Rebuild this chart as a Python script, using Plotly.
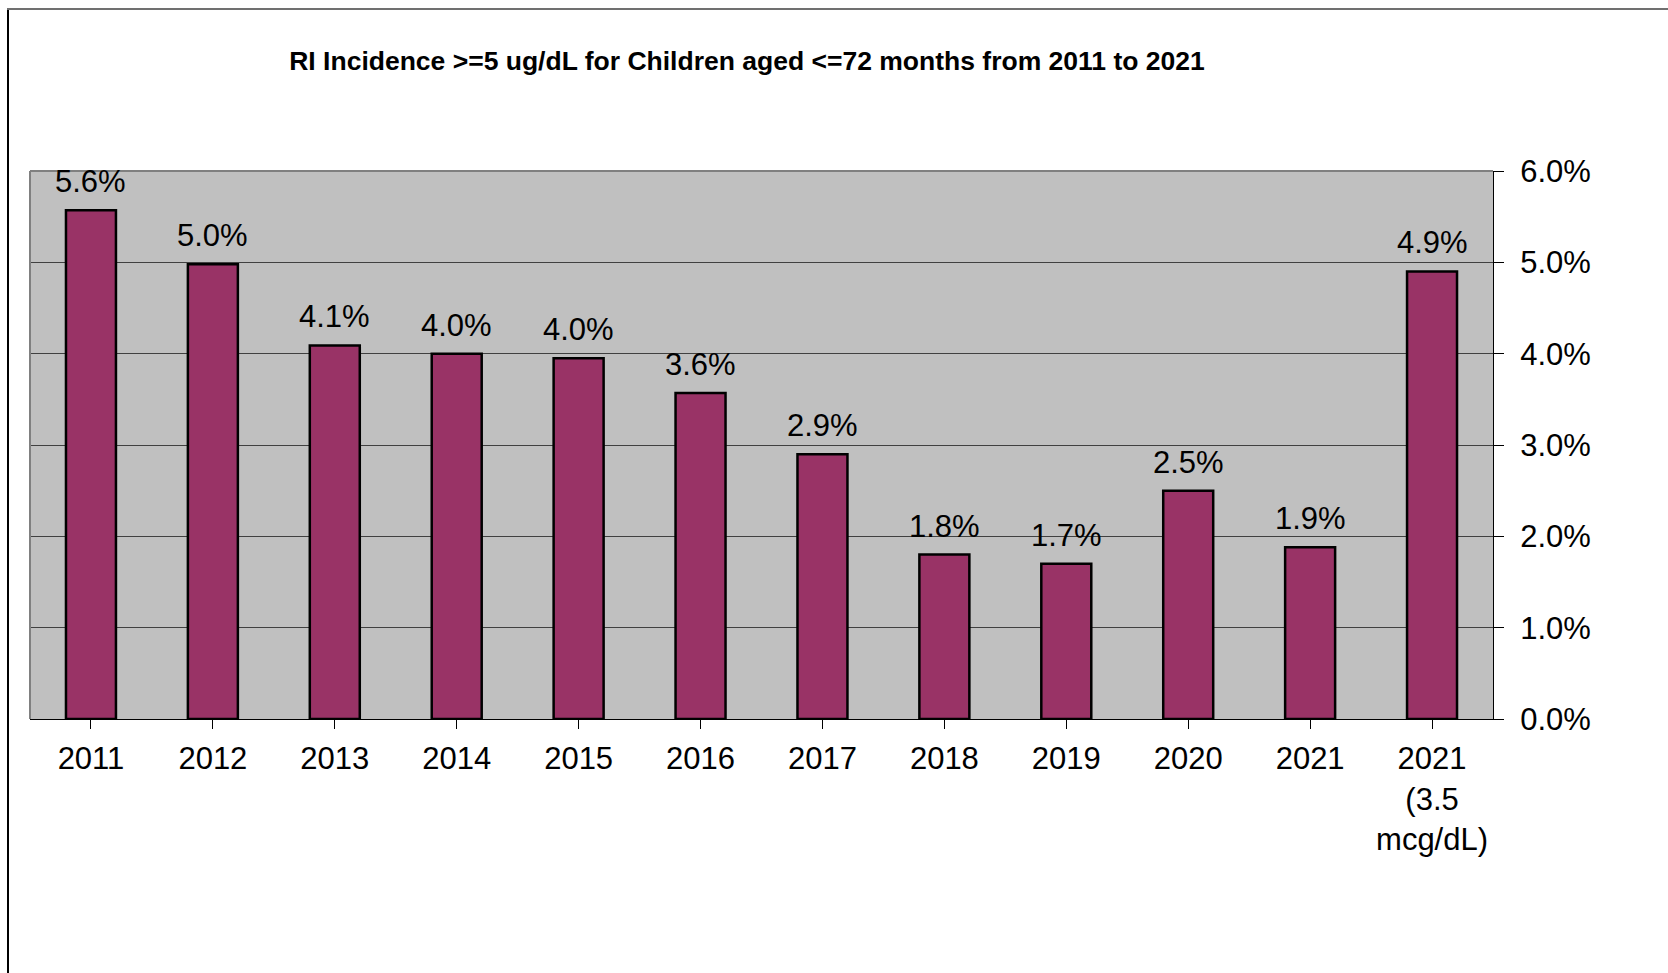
import plotly.graph_objects as go

categories = ["2011", "2012", "2013", "2014", "2015", "2016", "2017", "2018",
              "2019", "2020", "2021", "2021<br>(3.5<br>mcg/dL)"]
values_pct = [5.57, 4.98, 4.09, 4.00, 3.95, 3.57, 2.90, 1.80, 1.70, 2.50, 1.88, 4.90]
labels = ["5.6%", "5.0%", "4.1%", "4.0%", "4.0%", "3.6%", "2.9%", "1.8%",
          "1.7%", "2.5%", "1.9%", "4.9%"]
title_text = "RI Incidence >=5 ug/dL for Children aged <=72 months from 2011 to 2021"

values = [v / 100 for v in values_pct]

W, H = 1668, 973
ML, MR, MT, MB = 30, 175, 171, 254
PW, PH = W - ML - MR, H - MT - MB

FONT = "Liberation Sans, Arial, sans-serif"
FS = 31

fig = go.Figure()
fig.add_trace(go.Bar(
    x=list(range(len(categories))), y=values,
    width=0.41,
    marker=dict(color="#993366", line=dict(color="#000000", width=2.5)),
    hoverinfo="skip",
))

annotations = []
for i, (v, lab) in enumerate(zip(values, labels)):
    annotations.append(dict(
        x=i, y=v, xref="x", yref="y", text=lab, showarrow=False,
        yanchor="bottom", xanchor="center", yshift=9,
        font=dict(family=FONT, size=FS, color="#000000"),
    ))

def px_x(p):
    return (p - ML) / PW

def px_y(p):
    return (H - MB - p) / PH

shapes = [
    # plot area border (left & top gray)
    dict(type="line", xref="paper", yref="paper", x0=0, x1=0, y0=0, y1=1,
         line=dict(color="#808080", width=2), layer="above"),
    dict(type="line", xref="paper", yref="paper", x0=0, x1=1, y0=1, y1=1,
         line=dict(color="#808080", width=2), layer="above"),
    # outer chart border
    dict(type="line", xref="paper", yref="paper", x0=px_x(8), x1=px_x(8),
         y0=px_y(9), y1=px_y(980), line=dict(color="#000000", width=2)),
    dict(type="line", xref="paper", yref="paper", x0=px_x(7), x1=px_x(1680),
         y0=px_y(9), y1=px_y(9), line=dict(color="#707070", width=2)),
]

fig.update_layout(
    width=W, height=H,
    margin=dict(l=ML, r=MR, t=MT, b=MB, autoexpand=False),
    paper_bgcolor="#FFFFFF", plot_bgcolor="#C0C0C0",
    showlegend=False,
    title=dict(text="<b>" + title_text + "</b>", x=px_x(747), xref="paper",
               xanchor="center", y=1 - 61 / H, yref="container", yanchor="middle",
               font=dict(family=FONT, size=26.5, color="#000000")),
    annotations=annotations, shapes=shapes,
    xaxis=dict(
        tickmode="array", tickvals=list(range(len(categories))), ticktext=categories,
        range=[-0.5, len(categories) - 0.5],
        tickson="boundaries", ticks="outside", ticklen=9, tickcolor="#000000", tickwidth=1,
        showline=True, linecolor="#000000", linewidth=1,
        showgrid=False, zeroline=False,
        tickfont=dict(family=FONT, size=FS, color="#000000"),
        ticklabelstandoff=3,
    ),
    yaxis=dict(
        side="right", range=[0, 0.06], dtick=0.01, tick0=0, tickformat=".1%",
        ticks="outside", ticklen=10, tickcolor="#000000", tickwidth=1,
        showline=True, linecolor="#000000", linewidth=1,
        showgrid=True, gridcolor="#404040", gridwidth=1, zeroline=False,
        tickfont=dict(family=FONT, size=FS, color="#000000"),
        ticklabelstandoff=10,
    ),
)

fig.write_html("out.html", config={"displayModeBar": False},
               post_script="document.body.style.margin='0px';document.body.style.overflow='hidden';")
